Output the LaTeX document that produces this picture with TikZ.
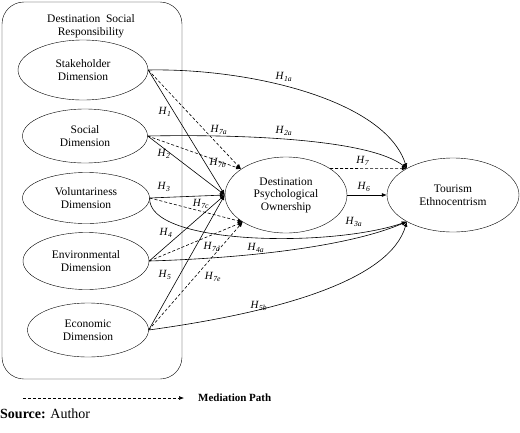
\documentclass[tikz,border=0pt]{standalone}
\usepackage{fontspec}
\setmainfont{Liberation Serif}
\usetikzlibrary{shapes.geometric,arrows.meta}
\newcommand\hyp[1]{\textit{H}\textsubscript{\textit{#1}}}
\begin{document}
\begin{tikzpicture}[x=1pt,y=-1pt,
  dim/.style={ellipse,draw,inner sep=0pt,align=center,font=\fontsize{11.5}{13.5}\selectfont},
  lab/.style={font=\fontsize{11}{12}\selectfont,inner sep=0pt},
  solid arr/.style={draw,line width=0.6pt,-{Latex[length=5pt,width=4pt]}},
  dash arr/.style={draw,line width=0.6pt,dashed,dash pattern=on 3pt off 2pt,-{Latex[length=5pt,width=4pt]}}]
\useasboundingbox (0,0) rectangle (520,432);
% group box
\node[draw,rounded corners=22pt,minimum width=180pt,minimum height=377pt,inner sep=0pt] (box) at (92,190.5) {};
\node[align=center,font=\fontsize{11.5}{13}\selectfont] (title) at (91,26) {Destination\ \ Social\\Responsibility};
% dimensions
\node[dim,minimum width=130pt,minimum height=60pt] (stake) at (83,70) {Stakeholder\\Dimension};
\node[dim,minimum width=125pt,minimum height=54pt] (soc) at (85,136) {Social\\Dimension};
\node[dim,minimum width=127pt,minimum height=51pt] (vol) at (86,198) {Voluntariness\\Dimension};
\node[dim,minimum width=126pt,minimum height=57pt] (env) at (86,261) {Environmental\\Dimension};
\node[dim,minimum width=121pt,minimum height=54pt] (eco) at (88,330) {Economic\\Dimension};
% outcomes
\node[dim,minimum width=122pt,minimum height=76pt,font=\fontsize{11.5}{12.5}\selectfont] (dpo) at (286,195) {Destination\\Psychological\\Ownership};
\node[dim,minimum width=132pt,minimum height=74pt] (te) at (453,195) {Tourism\\Ethnocentrism};
% direct paths to DPO
\draw[solid arr] (stake.east) -- (dpo.west);
\draw[solid arr] (soc.east) -- (dpo.west);
\draw[solid arr] (vol.east) -- (dpo.west);
\draw[solid arr] (env.east) -- (dpo.west);
\draw[solid arr] (eco.east) -- (dpo.west);
% mediation paths
\draw[dash arr] (stake.east) -- (dpo.150);
\draw[dash arr] (soc.east) -- (dpo.150);
\draw[dash arr] (vol.east) -- (dpo.212);
\draw[dash arr] (env.east) -- (dpo.212);
\draw[dash arr] (eco.east) -- (dpo.212);
\draw[dash arr] (dpo.31) -- (te.150);
\draw[solid arr] (dpo.east) -- (te.west);
% direct paths to TE
\draw[solid arr] (stake.east) .. controls (250,68) and (385,100) .. (te.150);
\draw[solid arr] (soc.east) .. controls (250,134) and (370,140) .. (te.150);
\draw[solid arr] (vol.east) .. controls (147,245) and (330,248) .. (te.210);
\draw[solid arr] (env.east) .. controls (250,258) and (350,246) .. (te.210);
\draw[solid arr] (eco.east) .. controls (280,312) and (390,280) .. (te.210);
% labels
\node[lab] (l1a) at (284,77) {\hyp{1a}};
\node[lab] (l2a) at (284,131) {\hyp{2a}};
\node[lab] (l7) at (363,161) {\hyp{7}};
\node[lab] (l6) at (364,187) {\hyp{6}};
\node[lab] (l3a) at (354,222) {\hyp{3a}};
\node[lab] (l4a) at (256,248) {\hyp{4a}};
\node[lab] (l5b) at (259,306) {\hyp{5b}};
\node[lab] (l1) at (165,112) {\hyp{1}};
\node[lab] (l2) at (164,154) {\hyp{2}};
\node[lab] (l3) at (164,187) {\hyp{3}};
\node[lab] (l4) at (166,233) {\hyp{4}};
\node[lab] (l5) at (165,275) {\hyp{5}};
\node[lab] (l7a) at (219,130) {\hyp{7a}};
\node[lab] (l7b) at (218,163) {\hyp{7b}};
\node[lab] (l7c) at (201,204) {\hyp{7c}};
\node[lab] (l7d) at (212,247) {\hyp{7d}};
\node[lab] (l7e) at (213,277) {\hyp{7e}};
% legend
\coordinate (lgA) at (23,398);
\coordinate (lgB) at (184,398);
\draw[dash arr] (lgA) -- (lgB);
\node[anchor=west,inner sep=0pt,font=\fontsize{11}{13}\selectfont\bfseries] (leg) at (198,398) {Mediation Path};
\node[anchor=west,inner sep=0pt,font=\fontsize{14}{16}\selectfont] (src) at (0,414) {\textbf{Source:} Author};
\end{tikzpicture}
\end{document}
